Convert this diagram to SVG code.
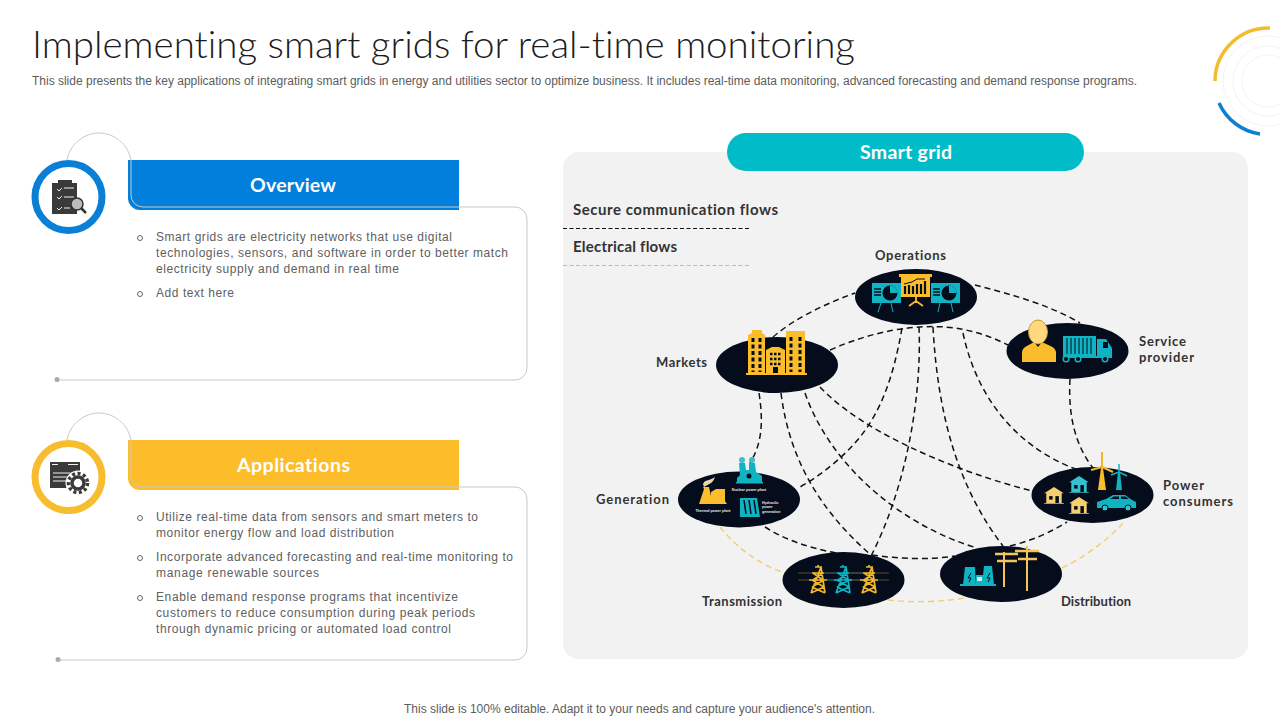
<svg xmlns="http://www.w3.org/2000/svg" width="1280" height="720" viewBox="0 0 1280 720">
<style>
text{font-family:"Liberation Sans",Arial,sans-serif;font-variant-ligatures:none}
.title{font-family:"Lato","Liberation Sans",sans-serif;font-weight:300;font-size:38px;fill:#1c1c1c}
.sub{font-size:12px;fill:#5c5c5c}
.body{font-size:12px;fill:#606060}
.bullet{fill:none;stroke:#666;stroke-width:1}
.hdr{font-family:"Lato","Liberation Sans",sans-serif;font-weight:700;font-size:19.500px;fill:#fff;text-anchor:middle}
.lab{font-family:"Lato","Liberation Sans",sans-serif;font-weight:700;font-size:13px;fill:#333}
.leg{font-family:"Lato","Liberation Sans",sans-serif;font-weight:700;font-size:15px;fill:#333}
.card{fill:none;stroke:#c9c9c9;stroke-width:1}
.blob{fill:#050c1c}
.k{fill:none;stroke:#111;stroke-width:1.500;stroke-dasharray:6 4}
.y{fill:none;stroke:#f2cc70;stroke-width:1.400;stroke-dasharray:6 4}
.tiny{font-size:3.600px;fill:#e8e8e8;font-weight:700}
.gy{fill:#fbbd2c}.te{fill:#10b3c2}.bk{fill:#050c1c}
.dk{fill:#3a3a3a}
</style>
<defs>
<g id="tower"><path d="M0 -14V-12M-6 -6H6M-9 1H9M-3 -12H3L-7 14M3 -12L7 14M-5 -6L5 1M5 -6L-5 1M-6 1L6 8M6 1L-6 8M-6 8L7 14M6 8L-7 14" fill="none" stroke="currentColor" stroke-width="1.700"/><path d="M-20 -6H20M-20 1H20" stroke="currentColor" stroke-width=".6" fill="none" opacity=".6"/></g>
<g id="house"><path d="M-14 -1L0 -10L14 -1L11 -1V13H14V14H-14V13H-11V-1Z" fill="currentColor"/><rect x="-7" y="3" width="5" height="5" class="bk"/><rect x="2" y="3" width="5" height="10" class="bk"/></g>
<g id="pie"><circle r="7.500" class="bk"/><path d="M0 0V-7.500A7.500 7.500 0 0 1 7.500 0Z" fill="currentColor"/><path d="M-21 -4h7M-21 -1h7M-21 2h7" stroke="#050c1c" stroke-width="1.600" transform="translate(5 0)"/></g>
</defs>
<rect width="1280" height="720" fill="#fff"/>
<text class="title" x="32" y="58" textLength="823" lengthAdjust="spacingAndGlyphs">Implementing smart grids for real-time monitoring</text>
<text class="sub" x="32" y="85" textLength="1105">This slide presents the key applications of integrating smart grids in energy and utilities sector to optimize business. It includes real-time data monitoring, advanced forecasting and demand response programs.</text>
<g id="corner" fill="none">
<circle cx="1268" cy="81" r="45" stroke="#f3f3f3"/><circle cx="1268" cy="81" r="35" stroke="#f3f3f3"/><circle cx="1268" cy="81" r="26" stroke="#f3f3f3"/>
<path d="M1270 28A53.500 53.500 0 0 0 1215 81" stroke="#f2bc2e" stroke-width="3.500"/>
<path d="M1219 103A53.500 53.500 0 0 0 1260 134" stroke="#0f80d0" stroke-width="3.500"/>
</g>

<g id="overview">
<path class="card" d="M67 160C70 144 84 133 99 133C114 133 128 144 131 160"/>
<path d="M128 160H459V210H140A12 12 0 0 1 128 198Z" fill="#0080dc"/>
<path d="M131 160V195A12 12 0 0 0 143 207H515A12 12 0 0 1 527 219V368A12 12 0 0 1 515 380H57" class="card"/>
<circle cx="57" cy="379.500" r="2.500" fill="#aaa"/>
<circle cx="68.500" cy="197" r="33.500" fill="#fff" stroke="#0a7fd6" stroke-width="7"/>
<path class="dk" d="M52 183H58V180H72V183H77V214H52Z"/>
<path d="M57 189l2 2 3-3M64 188H74M57 197l2 2 3-3M64 197H74M57 208l2 2 3-3M64 208H70" stroke="#eee" stroke-width="1" fill="none"/>
<circle cx="77" cy="204" r="6" fill="#bbb" stroke="#333" stroke-width="1.500"/><path d="M81 208L86 213" stroke="#333" stroke-width="2.500"/>
<text class="hdr" x="293" y="191.500" textLength="86">Overview</text>
<circle class="bullet" cx="140" cy="238" r="2.500"/>
<text class="body"><tspan x="156" y="241" textLength="296">Smart grids are electricity networks that use digital</tspan><tspan x="156" y="257" textLength="352">technologies, sensors, and software in order to better match</tspan><tspan x="156" y="273" textLength="243">electricity supply and demand in real time</tspan></text>
<circle class="bullet" cx="140" cy="294" r="2.500"/>
<text class="body" x="156" y="297" textLength="78">Add text here</text>
</g>

<g id="applications">
<path class="card" d="M67 440C70 424 84 413 99 413C114 413 128 424 131 440"/>
<path d="M128 440H459V490H140A12 12 0 0 1 128 478Z" fill="#fdbd2b"/>
<path d="M131 440V475A12 12 0 0 0 143 487H515A12 12 0 0 1 527 499V648A12 12 0 0 1 515 660H57" class="card"/>
<circle cx="58" cy="659.500" r="2.500" fill="#aaa"/>
<circle cx="68.500" cy="477" r="33.500" fill="#fff" stroke="#f7bd2f" stroke-width="7"/>
<rect class="dk" x="50" y="462" width="30" height="26"/>
<path d="M52 464.500h6M68 464.500h10M53 473h17M53 477h17M53 481h17" stroke="#eee" stroke-width="1" fill="none"/>
<circle cx="78" cy="483" r="12.500" fill="#fff"/>
<circle cx="78" cy="483" r="6" fill="#fff" stroke="#3a3a3a" stroke-width="3.500"/>
<circle cx="78" cy="483" r="9.500" fill="none" stroke="#3a3a3a" stroke-width="3.500" stroke-dasharray="3 2.500"/>
<text class="hdr" x="293.500" y="471.500" textLength="113">Applications</text>
<circle class="bullet" cx="140" cy="518" r="2.500"/>
<text class="body"><tspan x="156" y="521" textLength="322">Utilize real-time data from sensors and smart meters to</tspan><tspan x="156" y="537" textLength="238">monitor energy flow and load distribution</tspan></text>
<circle class="bullet" cx="140" cy="558" r="2.500"/>
<text class="body"><tspan x="156" y="561" textLength="357">Incorporate advanced forecasting and real-time monitoring to</tspan><tspan x="156" y="577" textLength="163">manage renewable sources</tspan></text>
<circle class="bullet" cx="140" cy="598" r="2.500"/>
<text class="body"><tspan x="156" y="601" textLength="302">Enable demand response programs that incentivize</tspan><tspan x="156" y="617" textLength="319">customers to reduce consumption during peak periods</tspan><tspan x="156" y="633" textLength="295">through dynamic pricing or automated load control</tspan></text>
</g>

<rect id="panel" x="563" y="152" width="685" height="507" rx="16" fill="#f2f2f2"/>
<g id="smart-grid-title">
<rect x="727" y="133" width="357" height="38" rx="19" fill="#00bcc8"/>
<text class="hdr" x="906" y="158.500" textLength="92">Smart grid</text>
</g>
<g id="legend">
<text class="leg" x="573" y="214.500" textLength="205">Secure communication flows</text>
<path class="k" d="M563 228.500H750" style="stroke-width:1;stroke-dasharray:4 2.500"/>
<text class="leg" x="573" y="251.500" textLength="104">Electrical flows</text>
<path d="M563 265.500H750" fill="none" stroke="#f0b92e" stroke-width="1" stroke-dasharray="4 2.500"/>
</g>

<g id="connectors">
<path class="k" d="M773 337C795 318 825 304 855 293"/>
<path class="k" d="M975 285C1010 294 1050 305 1080 323"/>
<path class="k" d="M830 350C875 330 915 325 945 327C970 329 990 336 1008 345"/>
<path class="k" d="M902 328C893 380 880 412 860 437C845 456 820 476 800 487"/>
<path class="k" d="M919 327C922 400 905 490 871 556"/>
<path class="k" d="M933 327C938 420 960 490 1003 546"/>
<path class="k" d="M963 333C975 390 1010 445 1078 470"/>
<path class="k" d="M1070 379C1068 415 1075 445 1093 468"/>
<path class="k" d="M759 393C764 425 761 445 750 463"/>
<path class="k" d="M781 393C790 465 825 515 872 556"/>
<path class="k" d="M805 393C830 465 900 525 977 548"/>
<path class="k" d="M820 387C860 430 950 470 1032 491"/>
<path class="k" d="M765 527C785 540 810 548 836 553"/>
<path class="k" d="M872 555C900 559 930 560 955 556"/>
<path class="k" d="M1010 546C1030 541 1050 533 1067 522"/>
<path class="y" d="M720 527C737 548 760 565 785 573"/>
<path class="y" d="M888 600C915 603 945 602 970 597"/>
<path class="y" d="M1062 568C1088 555 1110 538 1124 522"/>
</g>

<g id="node-operations">
<ellipse class="blob" cx="916" cy="297" rx="61" ry="28"/>
<rect class="te" x="872" y="283" width="29" height="20"/><rect class="te" x="931" y="283" width="29" height="20"/>
<path d="M881 303L878 312M891 303L893 312M940 303L938 312M951 303L953 312" stroke="#10b3c2" stroke-width="1"/>
<use href="#pie" x="890" y="293" color="#10b3c2"/><use href="#pie" x="949" y="293" color="#10b3c2"/>
<rect class="gy" x="899" y="274" width="33" height="3"/><rect class="gy" x="901" y="277" width="29" height="20"/>
<path d="M916 297V303M909 306L916 301L923 306" stroke="#fbbd2c" stroke-width="1.800" fill="none"/>
<path d="M905 294V286M909 294V285M913 294V286M917 294V284M921 294V284M925 294V281" stroke="#050c1c" stroke-width="2.200"/><path d="M904 284L912 282L917 279L925 279" stroke="#050c1c" stroke-width="1" fill="none"/>
<text class="lab" x="875" y="260" textLength="71">Operations</text>
</g>

<g id="node-markets">
<ellipse class="blob" cx="777" cy="365" rx="61" ry="28"/>
<path class="gy" d="M748 373V335L752 333V330H762V333L765 335V373ZM786 373V331H805V373ZM766 373V350L772 347H779L785 350V373Z"/>
<rect class="gy" x="746" y="373" width="61" height="2"/>
<path d="M753 338V372M760 338V372M791 337V372M800 337V372" stroke="#050c1c" stroke-width="3" stroke-dasharray="4 2.500"/>
<path d="M770 354H782M770 359H782M770 364H782" stroke="#050c1c" stroke-width="2.500" stroke-dasharray="2.500 1.500"/>
<rect class="bk" x="773" y="367" width="5" height="6"/>
<text class="lab" x="656" y="367" textLength="51">Markets</text>
</g>

<g id="node-service-provider">
<ellipse class="blob" cx="1067.500" cy="351" rx="61" ry="28"/>
<path class="gy" d="M1022 362V352C1023 346 1030 345 1034 342L1038 347L1042 342C1047 345 1055 346 1056 352V362Z"/>
<ellipse cx="1038" cy="332" rx="9.500" ry="12" fill="#ffd880" stroke="#c99a2e"/>
<path d="M1063 336H1096V356H1063Z" class="te"/>
<path d="M1067 338V354M1071 338V354M1075 338V354M1079 338V354M1083 338V354M1087 338V354M1091 338V354" stroke="#050c1c" stroke-width="1"/>
<path class="te" d="M1097 339H1106L1112 348V358H1097Z"/><rect class="bk" x="1103" y="342" width="5" height="6"/>
<rect class="te" x="1063" y="356" width="49" height="2"/>
<g fill="#050c1c" stroke="#10b3c2" stroke-width="1.500"><circle cx="1066" cy="359" r="2.800"/><circle cx="1078" cy="359" r="2.800"/><circle cx="1105" cy="359" r="2.800"/></g>
<text class="lab"><tspan x="1139" y="346" textLength="47">Service</tspan><tspan x="1139" y="362" textLength="55">provider</tspan></text>
</g>

<g id="node-generation">
<ellipse class="blob" cx="739" cy="499.500" rx="61" ry="28"/>
<path class="te" d="M737 483V478L740 475L739 463H745L746 470L749 470L749 463H755L756 472L762 476V483Z"/>
<circle cx="742" cy="460" r="3" fill="#35c2cf"/><circle cx="752" cy="460" r="3" fill="#35c2cf"/>
<circle cx="749" cy="476" r="2.500" class="bk"/>
<rect class="te" x="736" y="482" width="27" height="1.500"/>
<text class="tiny" x="749" y="490.500" text-anchor="middle">Nuclear power plant</text>
<path class="gy" d="M699 504L704 489L703 487H709L711 496V492L716 489H725V501L727 504Z"/>
<path d="M703 484C705 479 710 481 715 477C713 484 708 484 704 487Z" fill="#e8d9b0"/>
<text class="tiny" x="713" y="512" text-anchor="middle">Thermal power plant</text>
<path class="te" d="M740 498H757L760 517H740Z"/>
<path d="M744 500L746 514M749 500L751 514M754 500L756 514" stroke="#050c1c" stroke-width="1.500"/>
<text class="tiny"><tspan x="762" y="503.500">Hydraulic</tspan><tspan x="762" y="508">power</tspan><tspan x="762" y="512.500">generation</tspan></text>
<text class="lab" x="596" y="504" textLength="73">Generation</text>
</g>

<g id="node-transmission">
<ellipse class="blob" cx="843.500" cy="580" rx="61" ry="28"/>
<use href="#tower" x="818" y="579" color="#f0b62c"/><use href="#tower" x="843" y="579" color="#10b3c2"/><use href="#tower" x="869" y="579" color="#f0b62c"/>
<text class="lab" x="702" y="606" textLength="80">Transmission</text>
</g>

<g id="node-distribution">
<ellipse class="blob" cx="1001" cy="574" rx="61" ry="28"/>
<path class="te" d="M963 585L965 567H975L976 585ZM982 585L984 566H992L994 585ZM976 575H983V585H976Z"/><rect class="te" x="960" y="584" width="36" height="2"/>
<rect x="977" y="577" width="5" height="4" fill="#d5eef2"/>
<path d="M971 573L968 578H971L969 582M990 573L987 578H990L988 582" stroke="#050c1c" fill="none"/>
<path d="M1004 552V587M1027 546V591" stroke="#f4c45a" stroke-width="2"/>
<path d="M995 554H1018M997 561H1017M1015 551H1039M1018 559H1037" stroke="#f4c45a" stroke-width="2.500"/>
<text class="lab" x="1061" y="606" textLength="70">Distribution</text>
</g>

<g id="node-power-consumers">
<ellipse class="blob" cx="1092.500" cy="495" rx="61" ry="28"/>
<use href="#house" transform="translate(1054 494) scale(.7)" color="#f6cf73"/>
<use href="#house" transform="translate(1079 483) scale(.7)" color="#35c2cf"/>
<use href="#house" transform="translate(1079 504) scale(.7)" color="#f6cf73"/>
<path class="gy" d="M1098 490L1101 468H1103L1106 490Z"/><path d="M1102 467V452M1102 467L1091 470M1102 467L1113 472" stroke="#f0b62c" stroke-width="2"/>
<path class="te" d="M1116 490L1118 472H1120L1122 490Z"/><path d="M1119 472V464M1119 472L1111 475M1119 472L1127 476" stroke="#10b3c2" stroke-width="1.500"/>
<path class="te" d="M1097 508V502L1106 499L1113 495H1125L1132 500L1136 502V508Z"/>
<path d="M1110 499L1114 496.500H1119V499ZM1121 496.500H1125L1129 499H1121Z" class="bk"/>
<g fill="#35c2cf" stroke="#050c1c"><circle cx="1105" cy="508" r="3"/><circle cx="1128" cy="508" r="3"/></g>
<text class="lab"><tspan x="1163" y="490" textLength="41">Power</tspan><tspan x="1163" y="506" textLength="70">consumers</tspan></text>
</g>

<text class="sub" x="404" y="713" textLength="471">This slide is 100% editable. Adapt it to your needs and capture your audience's attention.</text>
</svg>
